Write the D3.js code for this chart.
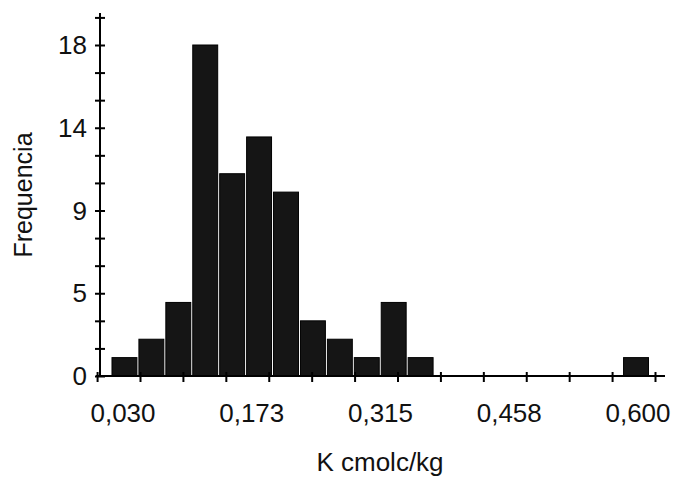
<!DOCTYPE html>
<html>
<head>
<meta charset="utf-8">
<script src="https://cdn.jsdelivr.net/npm/d3@7"></script>
<style>
    html, body { margin: 0; padding: 0; background: #fff; }
    svg { display: block; }
</style>
</head>
<body>
<div id="chart"></div>
<script>
"use strict";

/* global d3 */

// histogram bins of K (cmolc/kg), start of each bin
var binStarts = [-0.001, 0.0288, 0.0586, 0.0884, 0.1182, 0.148, 0.1778, 0.2076, 0.2374, 0.2672,
                 0.297, 0.3268, 0.3566, 0.3864, 0.4162, 0.446, 0.4758, 0.5056, 0.5354, 0.5652];
var binWidth = 0.0298;
var counts = [1, 2, 4, 18, 11, 13, 10, 3, 2, 1, 4, 1, 0, 0, 0, 0, 0, 0, 0, 1];

var xTickLabels = ["0,030", "0,173", "0,315", "0,458", "0,600"];
var xTickLabelValues = [0.030, 0.1725, 0.315, 0.4575, 0.600];
var yTickValues = [0, 4.5, 9, 13.5, 18];
var yTickLabels = ["0", "5", "9", "14", "18"];


(function() {

    var width = 677, height = 481;

    var x = d3.scaleLinear().domain([0.030, 0.600]).range([140, 655]);
    var y = d3.scaleLinear().domain([0, 18]).range([376, 45]);

    var svg = d3.select("#chart").append("svg")
        .attr("width", width)
        .attr("height", height);

    var font = "Liberation Sans, Arial, sans-serif";

    // bars
    svg.append("g").attr("id", "barsGroupId")
       .selectAll("rect")
       .data(counts.map(function(c, i) { return {start: binStarts[i], count: c}; })
                   .filter(function(d) { return d.count > 0; }))
       .enter()
       .append("rect")
         .attr("x", function(d) { return x(d.start); })
         .attr("y", function(d) { return y(d.count); })
         .attr("width", function(d) { return x(d.start + binWidth) - x(d.start) - 2; })
         .attr("height", function(d) { return y(0) - y(d.count); })
         .attr("fill", "#151515")
         .attr("stroke", "#000")
         .attr("stroke-width", 1)
    ;

    // x axis: minor and major ticks every 1/12 of the labelled range
    var step = (0.600 - 0.030) / 12;
    var xTicks = d3.range(-1, 13).map(function(k) { return 0.030 + k * step; });

    var xAxis = d3.axisBottom(x)
        .tickValues(xTicks)
        .tickSize(6)
        .tickSizeOuter(0)
        .tickFormat("");

    var xAxisG = svg.append("g")
        .attr("transform", "translate(0," + y(0) + ")")
        .call(xAxis);
    xAxisG.select(".domain").remove();
    xAxisG.selectAll(".tick line").attr("y1", -4).attr("y2", 6).attr("stroke", "#000").attr("stroke-width", 2);
    xAxisG.append("line")
        .attr("x1", 96).attr("x2", 665)
        .attr("stroke", "#000").attr("stroke-width", 2);

    svg.append("g").selectAll("text")
       .data(xTickLabelValues)
       .enter()
       .append("text")
         .text(function(d, i) { return xTickLabels[i]; })
         .attr("x", function(d) { return x(d) - 17; })
         .attr("y", 422)
         .attr("font-family", font)
         .attr("font-size", "26px")
         .attr("fill", "#111")
         .style("text-anchor", "middle")
    ;

    // y axis: ticks every 1.5 up to 19.5
    var yAxis = d3.axisLeft(y)
        .tickValues(d3.range(0, 14).map(function(k) { return k * 1.5; }))
        .tickSize(5)
        .tickSizeOuter(0)
        .tickFormat("");

    var yAxisG = svg.append("g")
        .attr("transform", "translate(100,0)")
        .call(yAxis);
    yAxisG.select(".domain").remove();
    yAxisG.selectAll(".tick line").attr("x1", -5).attr("x2", 5).attr("stroke", "#000").attr("stroke-width", 2);
    yAxisG.append("line")
        .attr("y1", 13).attr("y2", y(0) + 1)
        .attr("stroke", "#000").attr("stroke-width", 2);

    svg.append("g").selectAll("text")
       .data(yTickValues)
       .enter()
       .append("text")
         .text(function(d, i) { return yTickLabels[i]; })
         .attr("x", 87)
         .attr("y", function(d) { return y(d) + 9; })
         .attr("font-family", font)
         .attr("font-size", "26px")
         .attr("fill", "#111")
         .style("text-anchor", "end")
    ;

    // axis titles
    svg.append("text")
       .text("K cmolc/kg")
       .attr("x", 380)
       .attr("y", 471)
       .attr("font-family", font)
       .attr("font-size", "26px")
       .attr("fill", "#111")
       .style("text-anchor", "middle");

    svg.append("text")
       .text("Frequencia")
       .attr("transform", "translate(32,195) rotate(-90)")
       .attr("font-family", font)
       .attr("font-size", "25px")
       .attr("fill", "#111")
       .style("text-anchor", "middle");

})();
</script>
</body>
</html>
